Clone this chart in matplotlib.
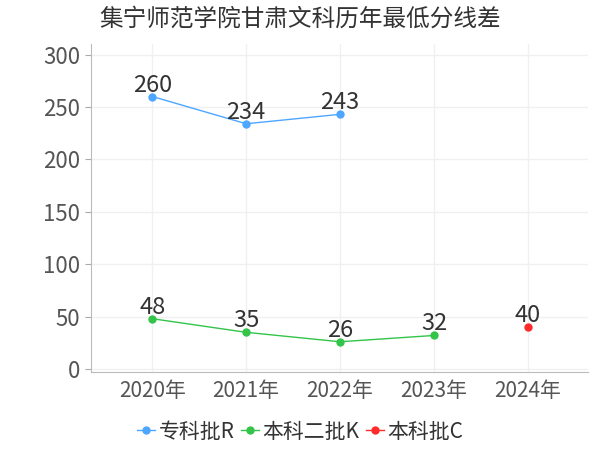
import matplotlib.pyplot as plt
import numpy as np

plt.rcParams['font.family'] = ['Noto Sans CJK SC', 'DejaVu Sans']

years = ['2020年', '2021年', '2022年', '2023年', '2024年']
zhuanke = [260, 234, 243, None, None]
benke2 = [48, 35, 26, 32, None]
benke = [None, None, None, None, 40]

seriesNames = ['专科批R', '本科二批K', '本科批C']
colors = ['#4da6ff', '#33c44a', '#ff2a2a']

fig = plt.figure(figsize=(6, 4.5), dpi=100)
ax = fig.add_axes([0.152, 0.173, 0.828, 0.729])

x = np.arange(len(years))
for vals, name, c in zip([zhuanke, benke2, benke], seriesNames, colors):
    y = np.array([np.nan if v is None else v for v in vals], dtype=float)
    ax.plot(x, y, color=c, marker='o', markersize=5, linewidth=1, label=name)
    # value labels
    for xi, v in zip(x, vals):
        if v is not None:
            ax.annotate(str(v), (xi, v), textcoords='offset points', xytext=(0, 0),
                        ha='center', va='bottom', fontsize=17, color='#333333')

ax.set_xlim(-0.65, 4.64)
ax.set_ylim(-3, 310)
ax.set_yticks([0, 50, 100, 150, 200, 250, 300])
ax.set_xticks(x)
ax.set_xticklabels(years)
ax.tick_params(axis='x', labelsize=15, length=0, pad=6)
ax.tick_params(axis='y', labelsize=16, length=4, color='#aaaaaa', pad=4)
for lab in ax.get_yticklabels() + ax.get_xticklabels():
    lab.set_color('#555555')

ax.grid(True, color='#f0f0f0', linewidth=1)
ax.set_axisbelow(True)
for side in ['top', 'right']:
    ax.spines[side].set_visible(False)
for side in ['left', 'bottom']:
    ax.spines[side].set_color('#bbbbbb')

fig.suptitle('集宁师范学院甘肃文科历年最低分线差', x=0.5, y=0.982, fontsize=17, color='#333333')

fig.legend(loc='lower center', bbox_to_anchor=(0.5, -0.025), ncol=3, frameon=False,
           fontsize=15, handlelength=0.9, handletextpad=0.15, columnspacing=0.3,
           labelcolor='#333333')

fig.savefig('out.png', dpi=100)
